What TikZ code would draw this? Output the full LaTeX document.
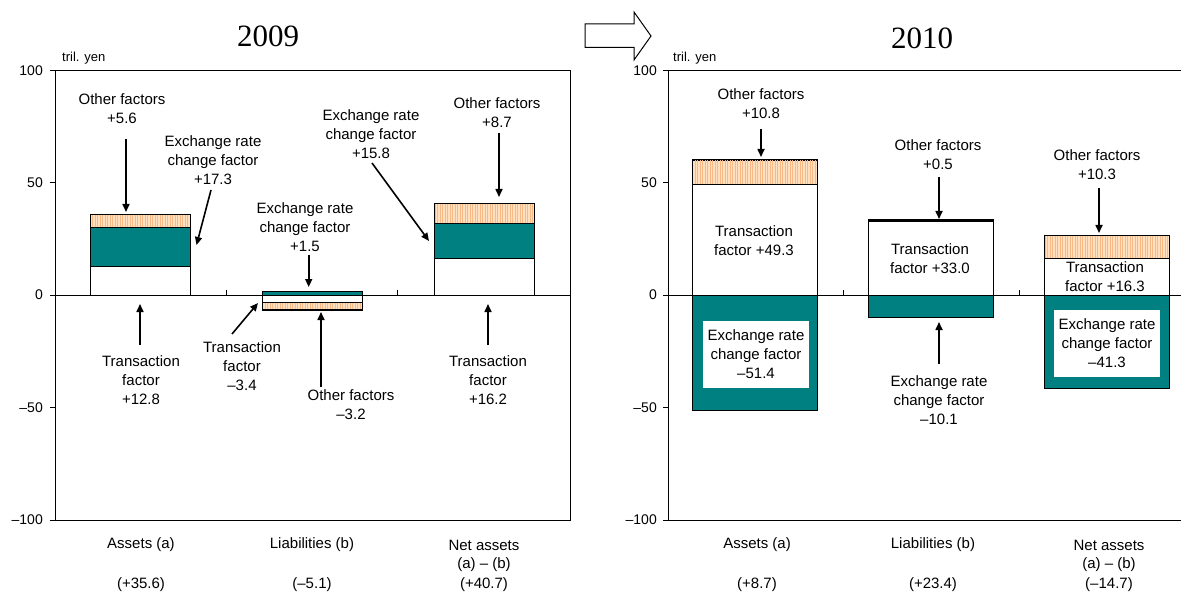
\documentclass[tikz,border=0pt]{standalone}
\usepackage{fontspec}
\setmainfont{Liberation Sans}
\newfontfamily\titlefont{Liberation Serif}
\usetikzlibrary{arrows.meta,patterns.meta}
\definecolor{teal}{RGB}{0,128,128}
\definecolor{peach}{RGB}{255,224,192}
\definecolor{hatch}{RGB}{247,186,135}
\tikzset{
  lab/.style={font=\fontsize{15}{19}\selectfont, align=center, inner sep=0pt},
  axlab/.style={font=\fontsize{14}{16}\selectfont, anchor=east, inner sep=0pt},
  unitlab/.style={font=\fontsize{13}{15}\selectfont, anchor=west, inner sep=0pt},
  ttl/.style={font=\titlefont\fontsize{31}{33}\selectfont, inner sep=0pt},
  arr/.style={line width=1.6pt, -{Triangle[length=8pt,width=7pt]}},
  bw/.style={fill=white, draw=black, line width=0.8pt},
  bt/.style={fill=teal, draw=black, line width=0.8pt},
  bh/.style={fill=peach, postaction={pattern={Lines[angle=90,distance=2.5pt,line width=0.45pt]}, pattern color=hatch}, postaction={draw=black, line width=0.8pt}},
  frame/.style={line width=0.9pt},
  wbox/.style={fill=white, inner sep=0pt, minimum width=106pt, minimum height=67pt, font=\fontsize{15}{19}\selectfont, align=center}
}
\begin{document}
\begin{tikzpicture}[x=1pt,y=-1pt]
\useasboundingbox (0,0) rectangle (1181,596);
% titles and block arrow
\node[ttl] (t1) at (268,36) {2009};
\node[ttl] (t2) at (922,38) {2010};
\draw[line width=1pt, fill=white] (585,24) -- (634,24) -- (634,12) -- (651,36) -- (634,60) -- (634,47.5) -- (585,47.5) -- cycle;

% ===== LEFT CHART =====
\draw[bw] (90,295) rectangle (190,266.2);
\draw[bt] (90,266.2) rectangle (190,227.3);
\draw[bh] (90,227.3) rectangle (190,214.7);
\draw[bt] (262,295) rectangle (362,291.6);
\draw[bw] (262,295) rectangle (362,302.65);
\draw[bh] (262,302.65) rectangle (362,309.85);
\draw[bw] (434,295) rectangle (534,258.55);
\draw[bt] (434,258.55) rectangle (534,223.0);
\draw[bh] (434,223.0) rectangle (534,203.4);
\draw[frame] (55,70) rectangle (570,520);
\draw[frame] (55,295) -- (570,295);
\draw[frame] (226.7,295) -- (226.7,290) (397.7,295) -- (397.7,290);
\foreach \yy in {70,182.5,295,407.5,520} \draw[frame] (50,\yy) -- (55,\yy);
\node[axlab] (ly1) at (43,71) {100};
\node[axlab] (ly2) at (43,183) {50};
\node[axlab] (ly3) at (43,295) {0};
\node[axlab] (ly4) at (43,408) {–50};
\node[axlab] (ly5) at (43,520) {–100};
\node[unitlab] (lu) at (62,58) {tril. yen};
\node[lab] (L1) at (122,109) {Other factors\\+5.6};
\node[lab] (L2) at (213,160) {Exchange rate\\change factor\\+17.3};
\node[lab] (L3) at (305,227) {Exchange rate\\change factor\\+1.5};
\node[lab] (L4) at (242,366) {Transaction\\factor\\–3.4};
\node[lab] (L5) at (351,405) {Other factors\\–3.2};
\node[lab] (L6) at (371,134) {Exchange rate\\change factor\\+15.8};
\node[lab] (L7) at (497,113) {Other factors\\+8.7};
\node[lab] (L8) at (141,380) {Transaction\\factor\\+12.8};
\node[lab] (L9) at (488,380) {Transaction\\factor\\+16.2};
\coordinate (a1s) at (126,139); \coordinate (a1e) at (126,212);
\coordinate (a2s) at (211,190); \coordinate (a2e) at (196.5,245);
\coordinate (a3s) at (308.7,255); \coordinate (a3e) at (308.7,287);
\coordinate (a4s) at (232,334); \coordinate (a4e) at (258,303);
\coordinate (a5s) at (321,387); \coordinate (a5e) at (321,312);
\coordinate (a6s) at (372,163); \coordinate (a6e) at (429,241);
\coordinate (a7s) at (499,133); \coordinate (a7e) at (499,197);
\coordinate (a8s) at (140,345); \coordinate (a8e) at (140,304);
\coordinate (a9s) at (488,345); \coordinate (a9e) at (488,304);
\foreach \i in {1,...,9} \draw[arr] (a\i s) -- (a\i e);
\node[lab] (c1) at (141,545) {Assets (a)};
\node[lab] (c2) at (312,545) {Liabilities (b)};
\node[lab] (c3) at (484,545) {Net assets};
\node[lab] (c3b) at (484,565) {(a) – (b)};
\node[lab] (v1) at (141,585) {(+35.6)};
\node[lab] (v2) at (312,585) {(–5.1)};
\node[lab] (v3) at (484,585) {(+40.7)};

% ===== RIGHT CHART =====
\draw[bw] (692.5,295) rectangle (817.5,184.1);
\draw[bh] (692.5,184.1) rectangle (817.5,159.8);
\draw[bt] (692.5,295) rectangle (817.5,410.65);
\draw[bw] (868,295) rectangle (993.5,220.75);
\draw[bh] (868,220.75) rectangle (993.5,219.6);
\draw[bt] (868,295) rectangle (993.5,317.7);
\draw[bw] (1044,295) rectangle (1169.5,258.3);
\draw[bh] (1044,258.3) rectangle (1169.5,235.15);
\draw[bt] (1044,295) rectangle (1169.5,387.9);
\draw[frame] (1181,70) -- (668,70) -- (668,520) -- (1181,520);
\draw[frame] (668,295) -- (1181,295);
\draw[frame] (843.7,295) -- (843.7,290) (1019.4,295) -- (1019.4,290);
\foreach \yy in {70,182.5,295,407.5,520} \draw[frame] (663,\yy) -- (668,\yy);
\node[axlab] (ry1) at (657,71) {100};
\node[axlab] (ry2) at (657,183) {50};
\node[axlab] (ry3) at (657,295) {0};
\node[axlab] (ry4) at (657,408) {–50};
\node[axlab] (ry5) at (657,520) {–100};
\node[unitlab] (ru) at (673,58) {tril. yen};
\node[lab] (R1) at (761,104) {Other factors\\+10.8};
\node[lab] (R2) at (754,241) {Transaction\\factor +49.3};
\node[wbox] (R3) at (756,354.5) {Exchange rate\\change factor\\–51.4};
\node[lab] (R4) at (938,155) {Other factors\\+0.5};
\node[lab] (R5) at (930,259) {Transaction\\factor +33.0};
\node[lab] (R6) at (939,400) {Exchange rate\\change factor\\–10.1};
\node[lab] (R7) at (1097,165) {Other factors\\+10.3};
\node[lab] (R8) at (1105,277) {Transaction\\factor +16.3};
\node[wbox] (R9) at (1107,343.5) {Exchange rate\\change factor\\–41.3};
\coordinate (b1s) at (761,129); \coordinate (b1e) at (761,157);
\coordinate (b2s) at (939,177); \coordinate (b2e) at (939,219);
\coordinate (b3s) at (939,364); \coordinate (b3e) at (939,322);
\coordinate (b4s) at (1099,188); \coordinate (b4e) at (1099,233);
\foreach \i in {1,...,4} \draw[arr] (b\i s) -- (b\i e);
\node[lab] (d1) at (757,545) {Assets (a)};
\node[lab] (d2) at (933,545) {Liabilities (b)};
\node[lab] (d3) at (1109,545) {Net assets};
\node[lab] (d3b) at (1109,565) {(a) – (b)};
\node[lab] (w1) at (757,585) {(+8.7)};
\node[lab] (w2) at (933,585) {(+23.4)};
\node[lab] (w3) at (1109,585) {(–14.7)};
\end{tikzpicture}
\end{document}
